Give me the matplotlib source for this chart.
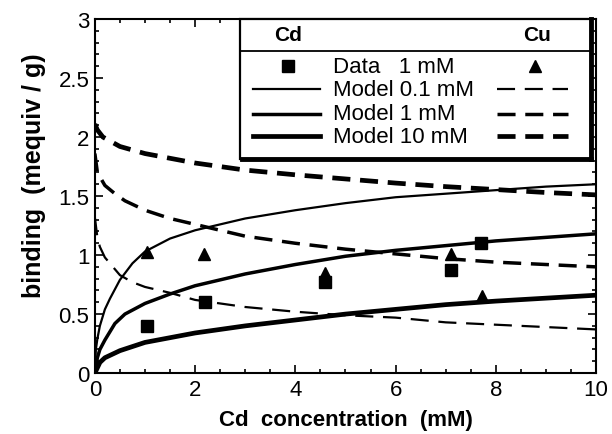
import matplotlib
matplotlib.use("Agg")
import matplotlib.pyplot as plt
from matplotlib.patches import Rectangle
from matplotlib.lines import Line2D
from matplotlib.ticker import MultipleLocator

plt.rcParams['font.family'] = ['Liberation Sans', 'DejaVu Sans']
plt.rcParams['lines.scale_dashes'] = False

# Data points (1 mM)
cd_data_x = [1.05, 2.2, 4.6, 7.1, 7.7]
cd_data_y = [0.40, 0.60, 0.77, 0.87, 1.10]
cu_data_x = [1.05, 2.17, 4.6, 7.1, 7.72]
cu_data_y = [1.03, 1.01, 0.85, 1.01, 0.65]

# Cd model curves (solid)
cd01_x = [0, 0.02, 0.05, 0.1, 0.2, 0.3, 0.5, 0.75, 1, 1.5, 2, 3, 4, 5, 6, 7, 8, 9, 10]
cd01_y = [0, 0.20, 0.29, 0.40, 0.54, 0.63, 0.79, 0.93, 1.03, 1.14, 1.21, 1.31, 1.38, 1.44, 1.49, 1.52, 1.55, 1.58, 1.60]
cd1_x = [0, 0.05, 0.1, 0.2, 0.4, 0.6, 1, 1.5, 2, 3, 4, 5, 6, 7, 8, 9, 10]
cd1_y = [0, 0.13, 0.20, 0.28, 0.42, 0.50, 0.59, 0.67, 0.74, 0.84, 0.92, 0.99, 1.04, 1.08, 1.12, 1.15, 1.18]
cd10_x = [0, 0.1, 0.2, 0.5, 1, 2, 3, 4, 5, 6, 7, 8, 9, 10]
cd10_y = [0, 0.09, 0.13, 0.19, 0.26, 0.34, 0.40, 0.45, 0.50, 0.54, 0.58, 0.61, 0.635, 0.66]

# Cu model curves (dashed)
cu01_x = [0, 0.05, 0.1, 0.2, 0.32, 0.5, 0.75, 1, 1.5, 2, 3, 4, 5, 6, 7, 8, 9, 10]
cu01_y = [1.32, 1.15, 1.07, 0.98, 0.92, 0.83, 0.77, 0.73, 0.68, 0.62, 0.56, 0.52, 0.49, 0.47, 0.43, 0.41, 0.39, 0.37]
cu1_x = [0, 0.05, 0.2, 0.4, 0.6, 1, 1.5, 2, 3, 4, 5, 6, 7, 8, 9, 10]
cu1_y = [1.86, 1.70, 1.59, 1.52, 1.46, 1.38, 1.31, 1.26, 1.16, 1.10, 1.05, 1.01, 0.97, 0.94, 0.92, 0.90]
cu10_x = [0, 0.05, 0.16, 0.5, 1, 1.5, 2, 3, 4, 5, 6, 7, 8, 9, 10]
cu10_y = [2.11, 2.06, 2.00, 1.92, 1.86, 1.82, 1.78, 1.72, 1.68, 1.645, 1.61, 1.58, 1.555, 1.53, 1.51]

x_ticks = [0, 2, 4, 6, 8, 10]
x_ticklabels = ['0', '2', '4', '6', '8', '10']
y_ticks = [0, 0.5, 1, 1.5, 2, 2.5, 3]
y_ticklabels = ['0', '0.5', '1', '1.5', '2', '2.5', '3']

fig = plt.figure(figsize=(6.12, 4.35), dpi=100)
ax = fig.add_axes([0.155, 0.140, 0.819, 0.814])

lw_thin, lw_med, lw_thick = 1.6, 2.5, 3.4
dash = (0, (13, 7))

ax.plot(cd01_x, cd01_y, color='black', lw=lw_thin)
ax.plot(cd1_x, cd1_y, color='black', lw=lw_med)
ax.plot(cd10_x, cd10_y, color='black', lw=lw_thick)
ax.plot(cu01_x, cu01_y, color='black', lw=lw_thin, linestyle=dash)
ax.plot(cu1_x, cu1_y, color='black', lw=lw_med, linestyle=dash)
ax.plot(cu10_x, cu10_y, color='black', lw=lw_thick, linestyle=dash)
ax.plot(cd_data_x, cd_data_y, 's', color='black', ms=8.5, linestyle='none')
ax.plot(cu_data_x, cu_data_y, '^', color='black', ms=9, linestyle='none')

ax.set_xlim(0, 10)
ax.set_ylim(0, 3)
ax.xaxis.set_minor_locator(MultipleLocator(0.5))
ax.yaxis.set_minor_locator(MultipleLocator(0.1))
ax.set_xticks(x_ticks)
ax.set_xticklabels(x_ticklabels)
ax.set_yticks(y_ticks)
ax.set_yticklabels(y_ticklabels)
ax.tick_params(which='both', direction='in', top=True, right=True, labelsize=16, width=1.2)
ax.tick_params(which='major', length=6, pad=4)
ax.tick_params(which='minor', length=3)
for s in ax.spines.values():
    s.set_linewidth(1.5)

ax.set_xlabel('Cd  concentration  (mM)', fontsize=16, fontweight='bold', labelpad=7)
ax.set_ylabel('binding  (mequiv / g)', fontsize=18, fontweight='bold')
ax.yaxis.set_label_coords(-0.098, 0.56)

# Custom legend box
T = ax.transAxes
x0, x1, y0, y1 = 0.289, 0.990, 0.605, 1.0
ax.add_patch(Rectangle((x0, y0), x1 - x0, y1 - y0, transform=T, facecolor='white',
                       edgecolor='black', lw=1.6, zorder=5, clip_on=False))
ax.add_line(Line2D([x0 + 0.005, x1], [y0, y0], transform=T, color='black', lw=3.5, zorder=6, clip_on=False))
ax.add_line(Line2D([x1, x1], [y0, y1], transform=T, color='black', lw=3.5, zorder=6, clip_on=False))
ax.add_line(Line2D([x0, x1], [0.910, 0.910], transform=T, color='black', lw=1.3, zorder=6))

ax.text(0.385, 0.955, 'Cd', transform=T, ha='center', va='center', fontsize=15, fontweight='bold', zorder=7)
ax.text(0.882, 0.955, 'Cu', transform=T, ha='center', va='center', fontsize=15, fontweight='bold', zorder=7)

rows_y = [0.867, 0.802, 0.732, 0.669]
row_txt = ['Data   1 mM', 'Model 0.1 mM', 'Model 1 mM', 'Model 10 mM']
for yy, t in zip(rows_y, row_txt):
    ax.text(0.475, yy, t, transform=T, ha='left', va='center', fontsize=16, zorder=7)

ax.plot([0.385], [rows_y[0]], 's', color='black', ms=8.5, transform=T, zorder=7, clip_on=False)
ax.plot([0.878], [rows_y[0]], '^', color='black', ms=8.5, transform=T, zorder=7, clip_on=False)
for yy, lw in zip(rows_y[1:], [lw_thin, lw_med, lw_thick]):
    ax.add_line(Line2D([0.315, 0.449], [yy, yy], transform=T, color='black', lw=lw, zorder=7))
    ax.add_line(Line2D([0.802, 0.944], [yy, yy], transform=T, color='black', lw=lw,
                       linestyle=(0, (13, 7)), zorder=7))

fig.savefig('out.png', dpi=100)
